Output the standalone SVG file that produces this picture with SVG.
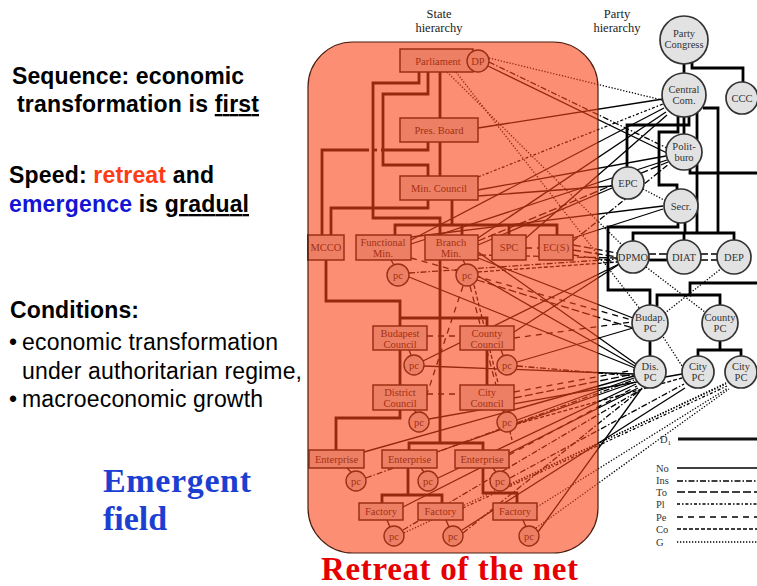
<svg xmlns="http://www.w3.org/2000/svg" width="757" height="586" viewBox="0 0 757 586">
<style>
.h{stroke:#000;stroke-width:2.8;fill:none}
.c{stroke:#000;stroke-width:1.3;fill:none}
.ins{stroke-dasharray:6 2 1.5 2}
.to{stroke-dasharray:8 3}
.pl{stroke-dasharray:3 2 1.5 2}
.pe{stroke-dasharray:6 5}
.co{stroke-dasharray:4 2}
.g{stroke-dasharray:1.3 1.7}
.sb{fill:#d9d9d9;stroke:#111;stroke-width:1.5}
.pc{fill:#d9d9d9;stroke:#111;stroke-width:1.4}
.pn{fill:#e2e2e2;stroke:#333;stroke-width:1.7}
.st{font-family:"Liberation Serif","Times New Roman",serif;font-size:10.5px;fill:#111;text-anchor:middle}
.pt{font-family:"Liberation Serif","Times New Roman",serif;font-size:10.5px;fill:#333;text-anchor:middle}
.ttl{font-family:"Liberation Serif","Times New Roman",serif;font-size:12.5px;fill:#222;text-anchor:middle}
.lg{font-family:"Liberation Serif","Times New Roman",serif;font-size:10.5px;fill:#333}
.lb{font-family:"Liberation Sans",Arial,sans-serif;font-size:23px;font-weight:bold;fill:#000}
.lr{font-family:"Liberation Sans",Arial,sans-serif;font-size:23px;fill:#000}
.big{font-family:"Liberation Serif","Times New Roman",serif;font-weight:bold}
</style>

<text class="ttl" x="439" y="18">State</text>
<text class="ttl" x="439" y="32">hierarchy</text>
<text class="ttl" x="617" y="18">Party</text>
<text class="ttl" x="617" y="32">hierarchy</text>

<g id="connectors">
  <polyline class="h" points="440,72 440,118"/>
  <polyline class="h" points="440,142 440,176"/>
  <polyline class="h" points="419,72 419,83 373,83 373,218 440,218 440,443"/>
  <polyline class="h" points="428,72 428,94 383,94 383,165 428,165 428,176"/>
  <polyline class="h" points="428,142 428,150 381,150"/>
  <polyline class="h" points="369,150 322,150 322,235"/>
  <line class="h" x1="374" y1="150" x2="377" y2="150"/>
  <polyline class="h" points="428,200 428,208 331,208 331,235"/>
  <polyline class="h" points="452,200 452,225"/>
  <polyline class="h" points="395,235 395,225 557,225 557,235"/>
  <line class="h" x1="462" y1="225" x2="462" y2="235"/>
  <line class="h" x1="509" y1="225" x2="509" y2="235"/>
  <polyline class="h" points="326,260 326,301 400,301 400,418 336,418 336,450"/>
  <polyline class="h" points="400,318 487,318 487,385"/>
  <polyline class="h" points="409,450 409,443 483,443 483,450"/>
  <polyline class="h" points="408,468 408,495"/>
  <polyline class="h" points="382,503 382,495 442,495 442,503"/>
  <polyline class="h" points="483,468 483,493 517,493 517,503"/>
  <line class="c" x1="391" y1="260" x2="394" y2="265"/>
  <line class="c" x1="463" y1="260" x2="465" y2="264"/>
  <line class="c" x1="409" y1="350" x2="411" y2="355"/>
  <line class="c" x1="501" y1="350" x2="503" y2="355"/>
  <line class="c" x1="414" y1="410" x2="416" y2="412"/>
  <line class="c" x1="502" y1="410" x2="504" y2="412"/>
  <line class="c" x1="347" y1="468" x2="351" y2="472"/>
  <line class="c" x1="421" y1="468" x2="424" y2="472"/>
  <line class="c" x1="493" y1="468" x2="496" y2="472"/>
  <line class="c" x1="387" y1="520" x2="390" y2="527"/>
  <line class="c" x1="446" y1="520" x2="449" y2="527"/>
  <line class="c" x1="523" y1="520" x2="526" y2="527"/>

  <line class="h" x1="684" y1="63" x2="684" y2="74"/>
  <polyline class="h" points="692,62 692,68 743,68 743,82"/>
  <polyline class="h" points="689,116 689,125 627,125 627,167"/>
  <polyline class="h" points="678,116 678,132 659,132 659,185 677,185 677,190"/>
  <line class="h" x1="684" y1="117" x2="684" y2="134"/>
  <polyline class="h" points="697,112 697,233"/>
  <polyline class="h" points="703,108 718,108 718,233"/>
  <polyline class="h" points="690,168 690,173 757,173"/>
  <polyline class="h" points="678,223 678,227 608,227 608,290 650,290 650,305"/>
  <line class="h" x1="685" y1="223" x2="685" y2="233"/>
  <polyline class="h" points="633,241 633,233 734,233 734,240"/>
  <line class="h" x1="684" y1="233" x2="684" y2="240"/>
  <polyline class="h" points="757,283 690,283 690,295 657,295 657,306"/>
  <polyline class="h" points="690,295 720,295 720,305"/>
  <line class="h" x1="650" y1="341" x2="650" y2="356"/>
  <line class="h" x1="720" y1="341" x2="720" y2="350"/>
  <polyline class="h" points="698,356 698,350 741,350 741,356"/>
  <line class="c to" x1="648" y1="254" x2="668" y2="254"/>
  <line class="h" x1="648" y1="260" x2="668" y2="260"/>
  <line class="c to" x1="700" y1="254" x2="718" y2="254"/>
  <line class="c to" x1="700" y1="260" x2="718" y2="260"/>

  <line class="c ins" x1="489" y1="62" x2="667" y2="148"/>
  <line class="c" x1="488" y1="66" x2="667" y2="153"/>
  <line class="c g" x1="489" y1="58" x2="662" y2="100"/>
  <line class="c g" x1="447" y1="72" x2="622" y2="245"/>
  <line class="c g" x1="456" y1="72" x2="640" y2="309"/>
  <line class="c" x1="478" y1="128" x2="663" y2="99"/>
  <line class="c pl" x1="478" y1="177" x2="663" y2="104"/>
  <line class="c" x1="478" y1="190" x2="666" y2="156"/>
  <line class="c" x1="478" y1="196" x2="612" y2="186"/>
  <line class="c" x1="411" y1="240" x2="664" y2="108"/>
  <line class="c" x1="411" y1="244" x2="667" y2="160"/>
  <line class="c" x1="478" y1="238" x2="666" y2="112"/>
  <line class="c to" x1="478" y1="241" x2="668" y2="162"/>
  <line class="c" x1="478" y1="245" x2="612" y2="188"/>
  <line class="c" x1="411" y1="237" x2="663" y2="206"/>
  <line class="c" x1="526" y1="238" x2="667" y2="115"/>
  <line class="c" x1="573" y1="238" x2="663" y2="209"/>
  <line class="c ins" x1="573" y1="241" x2="669" y2="164"/>
  <line class="c to" x1="573" y1="245" x2="617" y2="253"/>
  <line class="c to" x1="573" y1="250" x2="617" y2="257"/>
  <line class="c pe" x1="526" y1="248" x2="539" y2="248"/>
  <line class="c pe" x1="573" y1="255" x2="617" y2="262"/>
  <line class="c ins" x1="409" y1="273" x2="617" y2="259"/>
  <line class="c" x1="409" y1="277" x2="635" y2="368"/>
  <line class="c co" x1="478" y1="272" x2="617" y2="262"/>
  <line class="c" x1="478" y1="276" x2="635" y2="366"/>
  <line class="c to" x1="477" y1="280" x2="633" y2="328"/>
  <line class="c pe" x1="411" y1="258" x2="632" y2="320"/>
  <line class="c to" x1="478" y1="255" x2="619" y2="258"/>
  <line class="c" x1="478" y1="252" x2="636" y2="364"/>
  <line class="c" x1="478" y1="258" x2="633" y2="318"/>
  <line class="c pe" x1="463" y1="286" x2="421" y2="412"/>
  <line class="c pe" x1="470" y1="286" x2="503" y2="412"/>
  <line class="c co" x1="474" y1="285" x2="512" y2="440"/>
  <line class="c" x1="423" y1="361" x2="619" y2="264"/>
  <line class="c" x1="424" y1="366" x2="634" y2="374"/>
  <line class="c" x1="517" y1="362" x2="633" y2="328"/>
  <line class="c ins" x1="517" y1="366" x2="634" y2="376"/>
  <line class="c" x1="514" y1="332" x2="618" y2="265"/>
  <line class="c pe" x1="427" y1="336" x2="460" y2="336"/>
  <line class="c pe" x1="514" y1="338" x2="632" y2="322"/>
  <line class="c pe" x1="427" y1="394" x2="460" y2="394"/>
  <line class="c pe" x1="514" y1="392" x2="634" y2="370"/>
  <line class="c to" x1="514" y1="398" x2="634" y2="374"/>
  <line class="c" x1="429" y1="419" x2="682" y2="374"/>
  <line class="c" x1="517" y1="420" x2="634" y2="378"/>
  <line class="c co" x1="517" y1="424" x2="682" y2="378"/>
  <line class="c" x1="364" y1="452" x2="634" y2="376"/>
  <line class="c ins" x1="366" y1="478" x2="634" y2="380"/>
  <line class="c" x1="437" y1="452" x2="635" y2="382"/>
  <line class="c" x1="438" y1="478" x2="636" y2="384"/>
  <line class="c pe" x1="509" y1="455" x2="637" y2="386"/>
  <line class="c ins" x1="510" y1="478" x2="684" y2="384"/>
  <line class="c g" x1="508" y1="486" x2="728" y2="382"/>
  <line class="c" x1="403" y1="507" x2="638" y2="388"/>
  <line class="c g" x1="404" y1="533" x2="726" y2="384"/>
  <line class="c ins" x1="403" y1="530" x2="640" y2="390"/>
  <line class="c pl" x1="463" y1="508" x2="727" y2="386"/>
  <line class="c ins" x1="463" y1="533" x2="640" y2="390"/>
  <line class="c" x1="462" y1="530" x2="685" y2="388"/>
  <line class="c g" x1="537" y1="507" x2="728" y2="388"/>
  <line class="c" x1="538" y1="532" x2="642" y2="388"/>
  <line class="c g" x1="536" y1="528" x2="729" y2="389"/>
  <line class="c g" x1="643" y1="189" x2="666" y2="201"/>
  <line class="c g" x1="646" y1="267" x2="705" y2="312"/>
  <line class="c g" x1="722" y1="268" x2="665" y2="313"/>
  <line class="c g" x1="660" y1="332" x2="684" y2="369"/>
</g>

<g id="n-parliament"><rect class="sb" x="400" y="49" width="73" height="23"/><text class="st" x="438" y="65">Parliament</text></g>
<g id="n-dp"><circle class="pc" cx="478" cy="61" r="11"/><text class="st" x="478" y="65">DP</text></g>
<g id="n-presboard"><rect class="sb" x="400" y="118" width="78" height="24"/><text class="st" x="439" y="134">Pres. Board</text></g>
<g id="n-mincouncil"><rect class="sb" x="400" y="176" width="78" height="24"/><text class="st" x="439" y="192">Min. Council</text></g>
<g id="n-mcco"><rect class="sb" x="308" y="235" width="36" height="25"/><text class="st" x="326" y="251">MCCO</text></g>
<g id="n-funcmin"><rect class="sb" x="356" y="235" width="55" height="25"/><text class="st" x="383" y="246">Functional</text><text class="st" x="383" y="257">Min.</text></g>
<g id="n-branchmin"><rect class="sb" x="425" y="235" width="53" height="25"/><text class="st" x="451" y="246">Branch</text><text class="st" x="451" y="257">Min.</text></g>
<g id="n-spc"><rect class="sb" x="492" y="235" width="34" height="25"/><text class="st" x="509" y="251">SPC</text></g>
<g id="n-ecs"><rect class="sb" x="539" y="235" width="34" height="25"/><text class="st" x="556" y="251">EC(S)</text></g>
<g id="n-pc1"><circle class="pc" cx="398" cy="275" r="11"/><text class="st" x="398" y="279">pc</text></g>
<g id="n-pc2"><circle class="pc" cx="467" cy="275" r="11"/><text class="st" x="467" y="279">pc</text></g>
<g id="n-budcouncil"><rect class="sb" x="373" y="326" width="54" height="24"/><text class="st" x="400" y="337">Budapest</text><text class="st" x="400" y="348">Council</text></g>
<g id="n-countycouncil"><rect class="sb" x="460" y="326" width="54" height="24"/><text class="st" x="487" y="337">County</text><text class="st" x="487" y="348">Council</text></g>
<g id="n-pc3"><circle class="pc" cx="414" cy="365" r="10"/><text class="st" x="414" y="369">pc</text></g>
<g id="n-pc4"><circle class="pc" cx="507" cy="365" r="10"/><text class="st" x="507" y="369">pc</text></g>
<g id="n-districtcouncil"><rect class="sb" x="373" y="385" width="54" height="25"/><text class="st" x="400" y="396">District</text><text class="st" x="400" y="407">Council</text></g>
<g id="n-citycouncil"><rect class="sb" x="460" y="385" width="54" height="25"/><text class="st" x="487" y="396">City</text><text class="st" x="487" y="407">Council</text></g>
<g id="n-pc5"><circle class="pc" cx="419" cy="422" r="10"/><text class="st" x="419" y="426">pc</text></g>
<g id="n-pc6"><circle class="pc" cx="507" cy="422" r="10"/><text class="st" x="507" y="426">pc</text></g>
<g id="n-ent1"><rect class="sb" x="309" y="450" width="55" height="18"/><text class="st" x="336.5" y="462.5">Enterprise</text></g>
<g id="n-ent2"><rect class="sb" x="382" y="450" width="55" height="18"/><text class="st" x="409.5" y="462.5">Enterprise</text></g>
<g id="n-ent3"><rect class="sb" x="455" y="450" width="54" height="18"/><text class="st" x="482" y="462.5">Enterprise</text></g>
<g id="n-pc7"><circle class="pc" cx="356" cy="481" r="10"/><text class="st" x="356" y="485">pc</text></g>
<g id="n-pc8"><circle class="pc" cx="428" cy="481" r="10"/><text class="st" x="428" y="485">pc</text></g>
<g id="n-pc9"><circle class="pc" cx="500" cy="481" r="10"/><text class="st" x="500" y="485">pc</text></g>
<g id="n-fac1"><rect class="sb" x="359" y="503" width="44" height="17"/><text class="st" x="381" y="515">Factory</text></g>
<g id="n-fac2"><rect class="sb" x="418" y="503" width="45" height="17"/><text class="st" x="440.5" y="515">Factory</text></g>
<g id="n-fac3"><rect class="sb" x="493" y="503" width="44" height="17"/><text class="st" x="515" y="515">Factory</text></g>
<g id="n-pc10"><circle class="pc" cx="394" cy="536" r="10"/><text class="st" x="394" y="540">pc</text></g>
<g id="n-pc11"><circle class="pc" cx="453" cy="536" r="10"/><text class="st" x="453" y="540">pc</text></g>
<g id="n-pc12"><circle class="pc" cx="529" cy="536" r="10"/><text class="st" x="529" y="540">pc</text></g>

<g id="n-partycongress"><circle class="pn" cx="684" cy="40" r="24"/><text class="pt" x="684" y="37">Party</text><text class="pt" x="684" y="48">Congress</text></g>
<g id="n-centralcom"><circle class="pn" cx="684" cy="95" r="22"/><text class="pt" x="684" y="93">Central</text><text class="pt" x="684" y="104">Com.</text></g>
<g id="n-ccc"><circle class="pn" cx="742" cy="98" r="16"/><text class="pt" x="742" y="102">CCC</text></g>
<g id="n-politburo"><circle class="pn" cx="684" cy="152" r="18"/><text class="pt" x="684" y="150">Polit-</text><text class="pt" x="684" y="161">buro</text></g>
<g id="n-epc"><circle class="pn" cx="628" cy="183" r="16"/><text class="pt" x="628" y="187">EPC</text></g>
<g id="n-secr"><circle class="pn" cx="681" cy="206" r="17"/><text class="pt" x="681" y="210">Secr.</text></g>
<g id="n-dpmo"><circle class="pn" cx="633" cy="257" r="16"/><text class="pt" x="633" y="261">DPMO</text></g>
<g id="n-diat"><circle class="pn" cx="684" cy="257" r="17"/><text class="pt" x="684" y="261">DIAT</text></g>
<g id="n-dep"><circle class="pn" cx="734" cy="257" r="17"/><text class="pt" x="734" y="261">DEP</text></g>
<g id="n-budappc"><circle class="pn" cx="650" cy="323" r="18"/><text class="pt" x="650" y="321">Budap.</text><text class="pt" x="650" y="332">PC</text></g>
<g id="n-countypc"><circle class="pn" cx="720" cy="323" r="18"/><text class="pt" x="720" y="321">County</text><text class="pt" x="720" y="332">PC</text></g>
<g id="n-dispc"><circle class="pn" cx="650" cy="372" r="16"/><text class="pt" x="650" y="370">Dis.</text><text class="pt" x="650" y="381">PC</text></g>
<g id="n-citypc1"><circle class="pn" cx="698" cy="372" r="16"/><text class="pt" x="698" y="370">City</text><text class="pt" x="698" y="381">PC</text></g>
<g id="n-citypc2"><circle class="pn" cx="741" cy="372" r="16"/><text class="pt" x="741" y="370">City</text><text class="pt" x="741" y="381">PC</text></g>

<g id="legend">
  <text class="lg" x="660" y="443">D<tspan font-size="7" dy="2">1</tspan></text>
  <line x1="678" y1="439" x2="757" y2="439" stroke="#111" stroke-width="3"/>
  <text class="lg" x="656" y="472">No</text><line class="c" x1="677" y1="468" x2="757" y2="468" stroke-width="1.5"/>
  <text class="lg" x="656" y="484">Ins</text><line class="c ins" x1="677" y1="481" x2="757" y2="481"/>
  <text class="lg" x="656" y="496">To</text><line class="c to" x1="677" y1="492" x2="757" y2="492"/>
  <text class="lg" x="656" y="508">Pl</text><line class="c pl" x1="677" y1="504" x2="757" y2="504"/>
  <text class="lg" x="656" y="521">Pe</text><line class="c pe" x1="677" y1="517" x2="757" y2="517"/>
  <text class="lg" x="656" y="533">Co</text><line class="c co" x1="677" y1="529" x2="757" y2="529"/>
  <text class="lg" x="656" y="546">G</text><line class="c g" x1="677" y1="542" x2="757" y2="542"/>
</g>

<rect id="overlay" x="308" y="42" width="290" height="511" rx="45" ry="45" fill="rgb(250,66,22)" fill-opacity="0.6" stroke="#4a1e10" stroke-width="1.2"/>

<g id="left-text">
  <text class="lb" x="12" y="84" textLength="232" lengthAdjust="spacing">Sequence: economic</text>
  <text class="lb" x="17" y="112" textLength="242" lengthAdjust="spacing">transformation is <tspan text-decoration="underline">first</tspan></text>
  <text class="lb" x="9" y="183" textLength="205" lengthAdjust="spacing">Speed: <tspan fill="#ff3a14">retreat</tspan> and</text>
  <text class="lb" x="9" y="212" textLength="240" lengthAdjust="spacing"><tspan fill="#1414d4">emergence</tspan> is <tspan text-decoration="underline">gradual</tspan></text>
  <text class="lb" x="10" y="318" textLength="129" lengthAdjust="spacing">Conditions:</text>
  <text class="lr" x="9" y="350" font-size="15">•</text>
  <text class="lr" x="22" y="350" textLength="256" lengthAdjust="spacing">economic transformation</text>
  <text class="lr" x="22" y="379" textLength="280" lengthAdjust="spacing">under authoritarian regime,</text>
  <text class="lr" x="9" y="407" font-size="15">•</text>
  <text class="lr" x="22" y="407" textLength="241" lengthAdjust="spacing">macroeconomic growth</text>
  <text class="big" x="103" y="492" font-size="34" fill="#1c3fd2" textLength="148" lengthAdjust="spacing">Emergent</text>
  <text class="big" x="103" y="530" font-size="34" fill="#1c3fd2">field</text>
  <text class="big" x="321" y="580" font-size="33" fill="#e60000" textLength="257" lengthAdjust="spacing">Retreat of the net</text>
</g>
</svg>
